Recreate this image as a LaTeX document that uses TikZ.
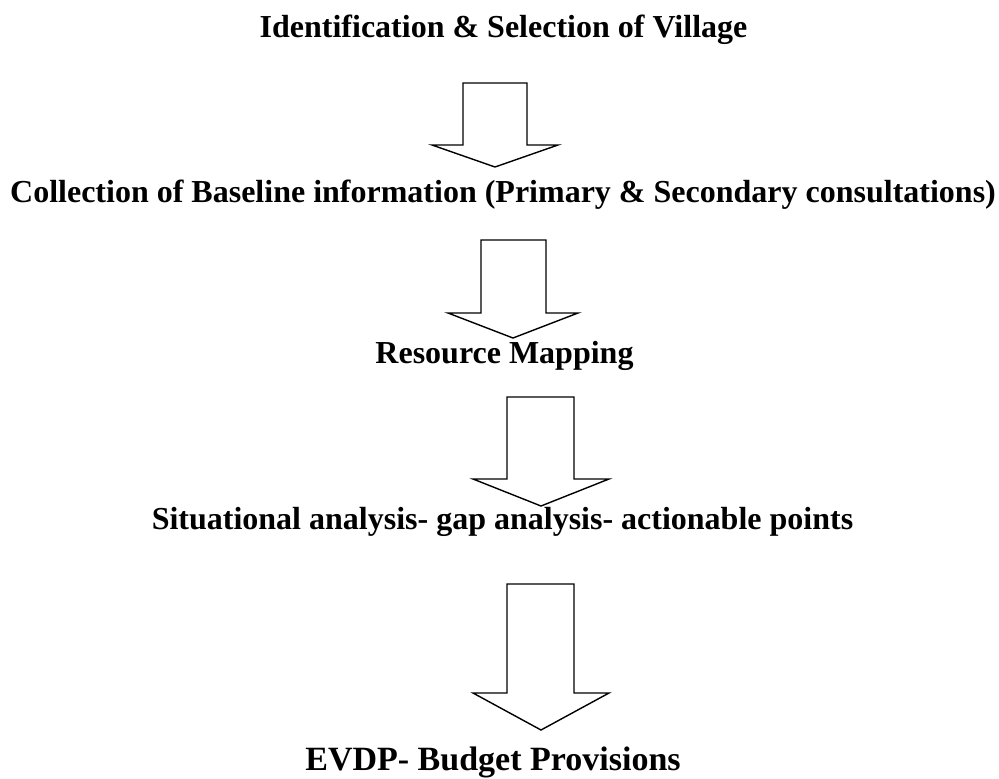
\documentclass[tikz,border=0pt]{standalone}
\usepackage{fontspec}
\setmainfont{Liberation Serif}
\begin{document}
\begin{tikzpicture}[x=1pt,y=-1pt,
  lbl/.style={anchor=base,inner sep=0pt,font=\fontsize{32}{36}\selectfont\bfseries},
  blk/.style={draw=black,line width=1.4pt,line join=miter,fill=white}]
\useasboundingbox (0,0) rectangle (999,779);
\node[lbl] (t1) at (503.5,37) {Identification \& Selection of Village};
\node[lbl] (t2) at (503,202) {Collection of Baseline information (Primary \& Secondary consultations)};
\node[lbl] (t3) at (504.5,363) {Resource Mapping};
\node[lbl] (t4) at (502.5,529) {Situational analysis- gap analysis- actionable points};
\node[lbl,font=\fontsize{34}{38}\selectfont\bfseries] (t5) at (493,770) {EVDP- Budget Provisions};
% block arrows
\draw[blk] (463,83) -- (527,83) -- (527,145) -- (558,145) -- (495,167) -- (432,145) -- (463,145) -- cycle;
\draw[blk] (481,240) -- (546,240) -- (546,313) -- (578,313) -- (513,338) -- (448,313) -- (481,313) -- cycle;
\draw[blk] (507,397) -- (574,397) -- (574,479) -- (609,479) -- (541,506) -- (473,479) -- (507,479) -- cycle;
\draw[blk] (507,584) -- (574,584) -- (574,693) -- (609,693) -- (541,730) -- (473,693) -- (507,693) -- cycle;
\end{tikzpicture}
\end{document}
